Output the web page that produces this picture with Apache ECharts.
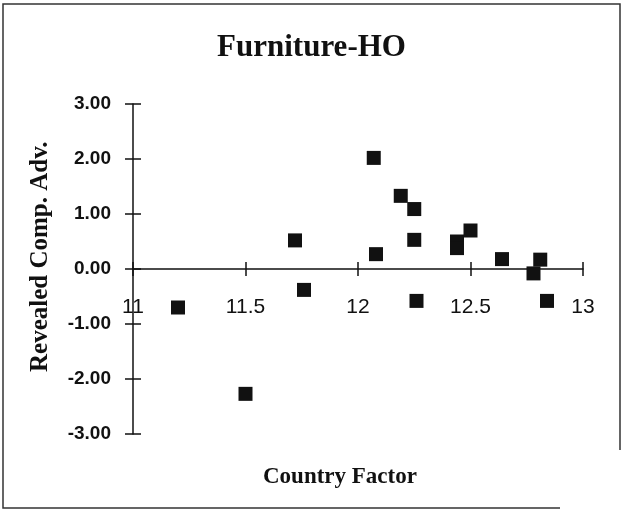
<!DOCTYPE html>
<html>
<head>
<meta charset="utf-8">
<script src="https://cdn.jsdelivr.net/npm/echarts@6/dist/echarts.min.js"></script>
<style>
  html, body { margin: 0; padding: 0; background: #fff; }
  #chart { width: 623px; height: 511px; }
</style>
</head>
<body>
<div id="chart"></div>
<script>
// data
var countryFactor = [11.20, 11.50, 11.72, 11.76, 12.07, 12.08, 12.19, 12.25, 12.25, 12.26, 12.44, 12.44, 12.50, 12.64, 12.78, 12.81, 12.84];
var rca = [-0.70, -2.27, 0.52, -0.38, 2.02, 0.27, 1.33, 1.09, 0.53, -0.58, 0.50, 0.38, 0.70, 0.18, -0.08, 0.17, -0.58];
var xTicks = [11, 11.5, 12, 12.5, 13];
var yTicks = [-3, -2, -1, 0, 1, 2, 3];

var points = countryFactor.map(function (x, i) { return [x, rca[i]]; });

var chart = echarts.init(document.getElementById("chart"));
var sans = "Liberation Sans, Arial, sans-serif";
var serif = "Liberation Serif, Times New Roman, serif";
var lineStyle = { color: "#111", width: 1.5 };
// x axis sits on y = 0, which is half the plot height above the grid bottom
var zeroOffset = -165;

var option = {
  animation: false,
  backgroundColor: "#fff",
  title: {
    text: "Furniture-HO",
    left: "center",
    top: 27,
    textStyle: { fontFamily: serif, fontWeight: "bold", fontSize: 31, color: "#111" }
  },
  grid: { left: 133, right: 40, top: 104, bottom: 77 },
  xAxis: [
    {
      type: "value", min: xTicks[0], max: xTicks[xTicks.length - 1], interval: 0.5,
      position: "bottom", offset: zeroOffset,
      axisLine: { onZero: false, lineStyle: lineStyle },
      axisTick: { show: true, length: 7, lineStyle: lineStyle },
      axisLabel: { margin: 28, fontFamily: sans, fontSize: 21, color: "#111" },
      splitLine: { show: false }
    },
    {
      type: "value", min: xTicks[0], max: xTicks[xTicks.length - 1], interval: 0.5,
      position: "bottom", offset: zeroOffset,
      axisLine: { show: false, onZero: false },
      axisTick: { show: true, inside: true, length: 7, lineStyle: lineStyle },
      axisLabel: { show: false },
      splitLine: { show: false }
    }
  ],
  yAxis: [
    {
      type: "value", min: yTicks[0], max: yTicks[yTicks.length - 1], interval: 1,
      position: "left",
      axisLine: { show: true, onZero: false, lineStyle: lineStyle },
      axisTick: { show: true, length: 8, lineStyle: lineStyle },
      axisLabel: {
        margin: 22, fontFamily: sans, fontWeight: "bold", fontSize: 19, color: "#111",
        formatter: function (v) { return v.toFixed(2); }
      },
      splitLine: { show: false }
    },
    {
      type: "value", min: yTicks[0], max: yTicks[yTicks.length - 1], interval: 1,
      position: "left",
      axisLine: { show: false, onZero: false },
      axisTick: { show: true, inside: true, length: 8, lineStyle: lineStyle },
      axisLabel: { show: false },
      splitLine: { show: false }
    }
  ],
  graphic: [
    {
      type: "polyline", silent: true,
      shape: { points: [[560, 508], [3, 508], [3, 4], [620, 4], [620, 450]] },
      style: { stroke: "#333", lineWidth: 1.5, fill: null }
    },
    {
      type: "text", left: 263, top: 466,
      style: { text: "Country Factor", fontFamily: serif, fontWeight: "bold", fontSize: 23, fill: "#111" }
    },
    {
      type: "text", x: 28, y: 372, rotation: Math.PI / 2,
      style: { text: "Revealed Comp. Adv.", fontFamily: serif, fontWeight: "bold", fontSize: 25, fill: "#111" }
    }
  ],
  series: [
    {
      type: "scatter",
      xAxisIndex: 0, yAxisIndex: 0,
      symbol: "rect",
      symbolSize: 14,
      itemStyle: { color: "#111", opacity: 1 },
      data: points
    }
  ]
};
chart.setOption(option);
</script>
</body>
</html>
